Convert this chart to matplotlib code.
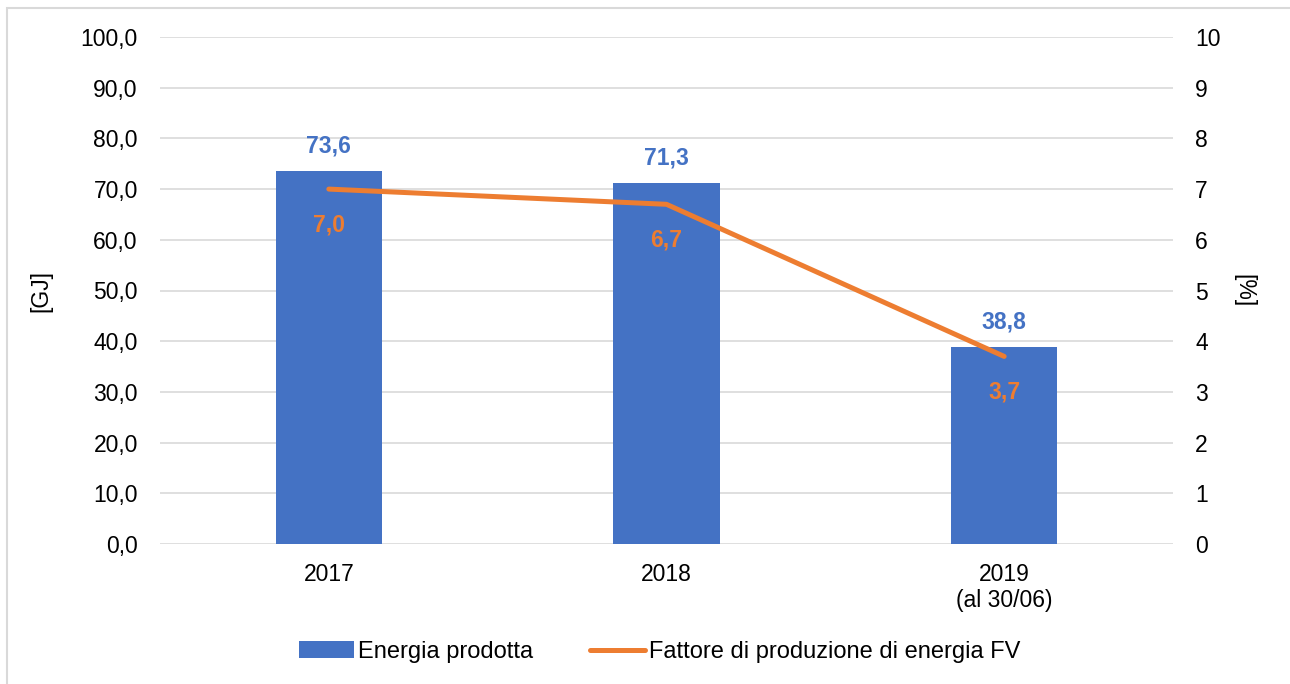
import matplotlib
matplotlib.use("Agg")
import matplotlib.pyplot as plt
from matplotlib.patches import Rectangle
from matplotlib.lines import Line2D
from matplotlib.patches import Patch

categories = ["2017", "2018", "2019\n(al 30/06)"]
energia = [73.6, 71.3, 38.8]
fattore = [7.0, 6.7, 3.7]
left_ticks = [0, 10, 20, 30, 40, 50, 60, 70, 80, 90, 100]
right_ticks = [0, 1, 2, 3, 4, 5, 6, 7, 8, 9, 10]

BLUE = "#4472C4"
ORANGE = "#ED7D31"
GRID = "#D9D9D9"
FS = 16.5

plt.rcParams['font.family'] = ['Liberation Sans', 'DejaVu Sans']

W, H = 1290, 684
fig = plt.figure(figsize=(W / 100, H / 100), dpi=100)
fig.patch.set_facecolor("white")
fig.patches.append(Rectangle((7 / W, -0.1), 1.2, 1 - 8 / H + 0.1, transform=fig.transFigure,
                             fill=False, edgecolor=GRID, linewidth=1.5))

ax = fig.add_axes([160 / W, 1 - 544 / H, (1173 - 160) / W, (544 - 37) / H])
x = list(range(len(categories)))
ax.bar(x, energia, width=0.314, color=BLUE, zorder=2)
ax.set_xlim(-0.5, 2.5)
ax.set_ylim(0, 100)
ax.set_yticks(left_ticks)
ax.set_yticklabels([f"{v:.1f}".replace(".", ",") for v in left_ticks], fontsize=FS)
ax.set_xticks(x)
ax.set_xticklabels(categories, fontsize=FS, linespacing=1.12)
ax.tick_params(axis="y", length=0, pad=16)
ax.tick_params(axis="x", length=0, pad=14)
ax.grid(axis="y", color=GRID, linewidth=1.2, zorder=0)
for s in ax.spines.values():
    s.set_visible(False)
ax.set_ylabel("[GJ]", fontsize=FS, labelpad=20)

for xi, v in zip(x, energia):
    ax.annotate(f"{v:.1f}".replace(".", ","), (xi, v), xytext=(0, 18), textcoords="offset points",
                ha="center", va="center", fontsize=FS, fontweight="bold", color=BLUE)

ax2 = ax.twinx()
ax2.set_ylim(0, 10)
ax2.set_yticks(right_ticks)
ax2.set_yticklabels([str(v) for v in right_ticks], fontsize=FS)
ax2.tick_params(axis="y", length=0, pad=16)
for s in ax2.spines.values():
    s.set_visible(False)
ax2.plot(x, fattore, color=ORANGE, linewidth=3.6, solid_capstyle="round", zorder=3)
ax2.set_ylabel("[%]", fontsize=FS, rotation=-90, labelpad=25)
for xi, v in zip(x, fattore):
    ax2.annotate(f"{v:.1f}".replace(".", ","), (xi, v), xytext=(0, -25.5), textcoords="offset points",
                 ha="center", va="center", fontsize=FS, fontweight="bold", color=ORANGE)

handles = [Patch(facecolor=BLUE, edgecolor="none"),
           Line2D([0], [0], color=ORANGE, linewidth=3.6, solid_capstyle="round")]
fig.legend(handles, ["Energia prodotta", "Fattore di produzione di energia FV"],
           loc="center", bbox_to_anchor=(660 / W, 1 - 652 / H), ncol=2, frameon=False,
           fontsize=17, handlelength=2.3, handletextpad=0.2, columnspacing=2.4)

fig.savefig("out.png", dpi=100)
